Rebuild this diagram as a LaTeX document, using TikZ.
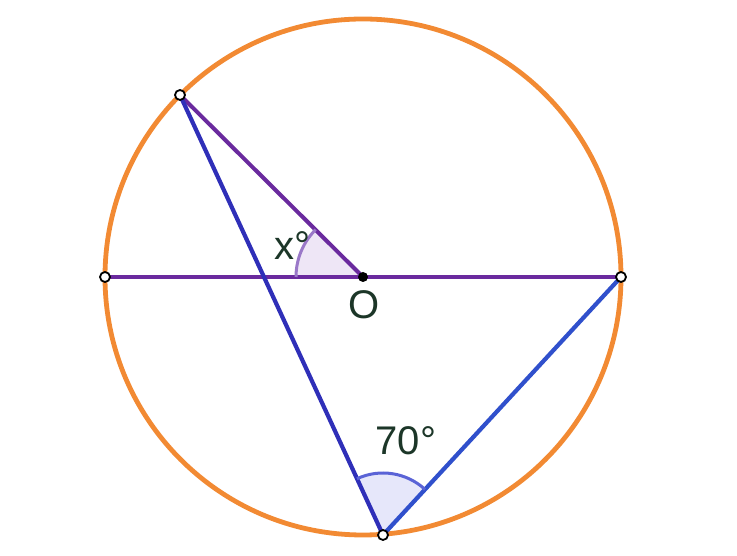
\documentclass[tikz,border=0pt]{standalone}
\usepackage{fontspec}
\setmainfont{Liberation Sans}
\begin{document}
\begin{tikzpicture}[x=1pt,y=1pt,
  pt/.style={circle,draw=black,fill=white,line width=1.8pt,inner sep=0pt,minimum size=10pt},
  ctr/.style={circle,fill=black,inner sep=0pt,minimum size=10pt},
  lbl/.style={text=txtc,font=\fontsize{40}{40}\selectfont,inner sep=0pt},
  purp/.style={draw=purpc,line width=4pt},
  blu/.style={draw=bluec,line width=4.2pt}]
\definecolor{orangec}{HTML}{F28A33}
\definecolor{purpc}{HTML}{6A2A9E}
\definecolor{bluec}{HTML}{2F2FB8}
\definecolor{blue2}{HTML}{3050CC}
\definecolor{txtc}{HTML}{1C3628}
\definecolor{arcp}{HTML}{9A78C8}
\definecolor{fillp}{HTML}{EEE6F6}
\definecolor{arcb}{HTML}{5A63D6}
\definecolor{fillb}{HTML}{E6E7FA}
\useasboundingbox (0,0) rectangle (737,556);
\coordinate (O) at (363,279);
\coordinate (A) at (180,461);
\coordinate (L) at (105,279);
\coordinate (R) at (621,279);
\coordinate (B) at (383,21);
% circle
\draw[orangec,line width=4.8pt] (O) circle (258);
% angle fills
\fill[fillp] (O) -- ++(180:67) arc (180:135:67) -- cycle;
\fill[fillb] (B) -- ++(47.3:62) arc (47.3:114.8:62) -- cycle;
% lines
\draw[purp] (L) -- (R);
\draw[purp] (O) -- (A);
\draw[blu] (A) -- (B);
\draw[draw=blue2,line width=4.2pt] (B) -- (R);
% angle arcs
\draw[arcp,line width=3pt] ([shift={(180:67)}]O) arc (180:135:67);
\draw[arcb,line width=3pt] ([shift={(47.3:62)}]B) arc (47.3:114.8:62);
% points
\node[pt] (nA) at (A) {};
\node[pt] (nL) at (L) {};
\node[pt] (nR) at (R) {};
\node[pt] (nB) at (B) {};
\node[ctr] (nO) at (O) {};
% labels
\node[lbl] (lx) at (292,310) {x°};
\node[lbl] (lO) at (364,251) {O};
\node[lbl] (l70) at (406,115) {70°};
\end{tikzpicture}
\end{document}
